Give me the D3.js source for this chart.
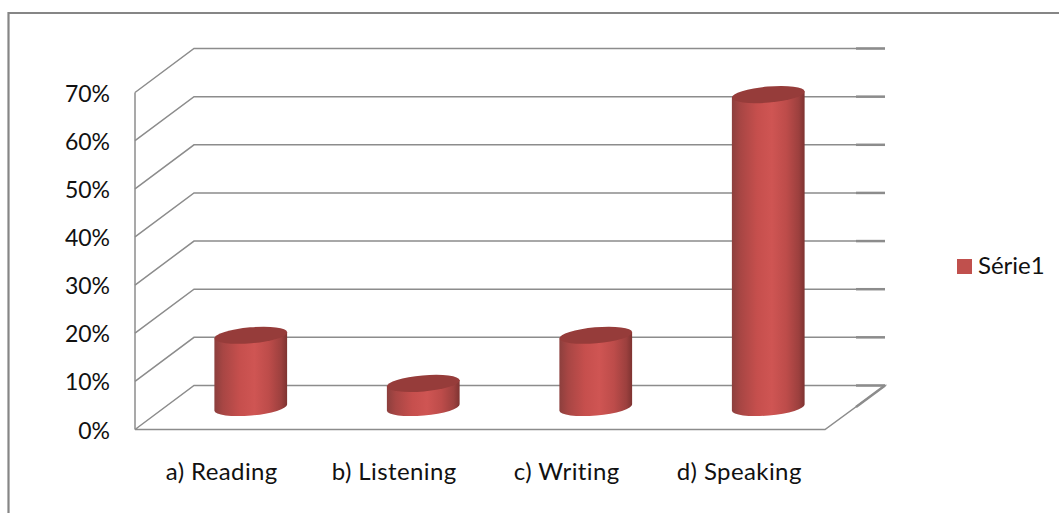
<!DOCTYPE html>
<html><head><meta charset="utf-8">
<script src="https://cdn.jsdelivr.net/npm/d3@7/dist/d3.min.js"></script>
<style>html,body{margin:0;background:#fff}svg{display:block}text{font-family:Lato,"Open Sans",sans-serif;fill:#111}</style>
</head><body><svg id="c" width="1059" height="513"></svg>
<script>
const categories = ["a) Reading","b) Listening","c) Writing","d) Speaking"];
const values = [0.15,0.05,0.15,0.65];
const yTicks = [0,0.1,0.2,0.3,0.4,0.5,0.6,0.7];
const seriesName = "Série1";

const svg = d3.select("#c");
const W = 1059, H = 513;
const depth = {x:59, y:-44};
const y = d3.scaleLinear().domain([0,0.7]).range([429.5,92.5]);
const catCentres = d3.scaleBand().domain(categories).range([135,825]);
const grey = "#8c8c8c";

svg.append("path").attr("d",`M8.5,${H} V13 H${W}`).attr("fill","none").attr("stroke","#868686").attr("stroke-width",2.2);

const defs = svg.append("defs");
const grad = defs.append("linearGradient").attr("id","body").attr("x1","0").attr("x2","1").attr("y1","0").attr("y2","0");
[[0,"#8c3f3d"],[0.12,"#a84644"],[0.35,"#c64f4d"],[0.55,"#cf5553"],[0.75,"#bd4c4a"],[0.92,"#9c403e"],[1,"#7e3331"]]
  .forEach(([o,c])=>grad.append("stop").attr("offset",o).attr("stop-color",c));

const grid = svg.append("g").attr("fill","none").attr("stroke",grey).attr("stroke-width",1.5);
yTicks.forEach(t=>{
  const yy = y(t), by = yy+depth.y;
  if(t>0) grid.append("path").attr("d",`M135,${yy} L${135+depth.x},${by} H885`);
  else grid.append("path").attr("d",`M135,${yy} L${135+depth.x},${by} H885 L825,${yy} H135`);
  grid.append("line").attr("x1",856).attr("x2",885).attr("y1",by).attr("y2",by).attr("stroke-width",2.5);
});
grid.append("line").attr("x1",135).attr("x2",135).attr("y1",y(0)).attr("y2",y(0.7));
grid.append("line").attr("x1",856).attr("x2",885).attr("y1",y(0)+depth.y+21.5).attr("y2",y(0)+depth.y).attr("stroke-width",2.5);

svg.append("g").selectAll("text").data(yTicks).join("text")
  .attr("x",110).attr("y",d=>y(d)+9).attr("text-anchor","end").attr("font-size",23)
  .text(d3.format(".0%"));

const rx = 36.5, ry = 8, rot = -5;
const cx = c => catCentres(c)+catCentres.bandwidth()/2 + depth.x/2;
const baseY = y(0)+depth.y/2;
const rad = rot*Math.PI/180;
const ex = rx*Math.cos(rad), ey = rx*Math.sin(rad);
const g = svg.append("g");
categories.forEach((c,i)=>{
  const h = y(0)-y(values[i]);
  const X = cx(c), B = baseY, T = baseY-h;
  g.append("path")
    .attr("d",`M${X-ex},${T-ey} L${X-ex},${B-ey} A${rx},${ry} ${rot} 0 0 ${X+ex},${B+ey} L${X+ex},${T+ey} Z`)
    .attr("fill","url(#body)");
  g.append("ellipse").attr("cx",0).attr("cy",0).attr("rx",rx).attr("ry",ry)
    .attr("transform",`translate(${X},${T}) rotate(${rot})`).attr("fill","#963c3a");
});

svg.append("g").selectAll("text").data(categories).join("text")
  .attr("x",d=>catCentres(d)+catCentres.bandwidth()/2+0.5).attr("y",480)
  .attr("text-anchor","middle").attr("font-size",24).attr("letter-spacing",0.4).text(d=>d);

svg.append("rect").attr("x",957).attr("y",259).attr("width",15).attr("height",15).attr("fill","#c0504d");
svg.append("text").attr("x",978).attr("y",274).attr("font-size",24).text(seriesName);
</script></body></html>
